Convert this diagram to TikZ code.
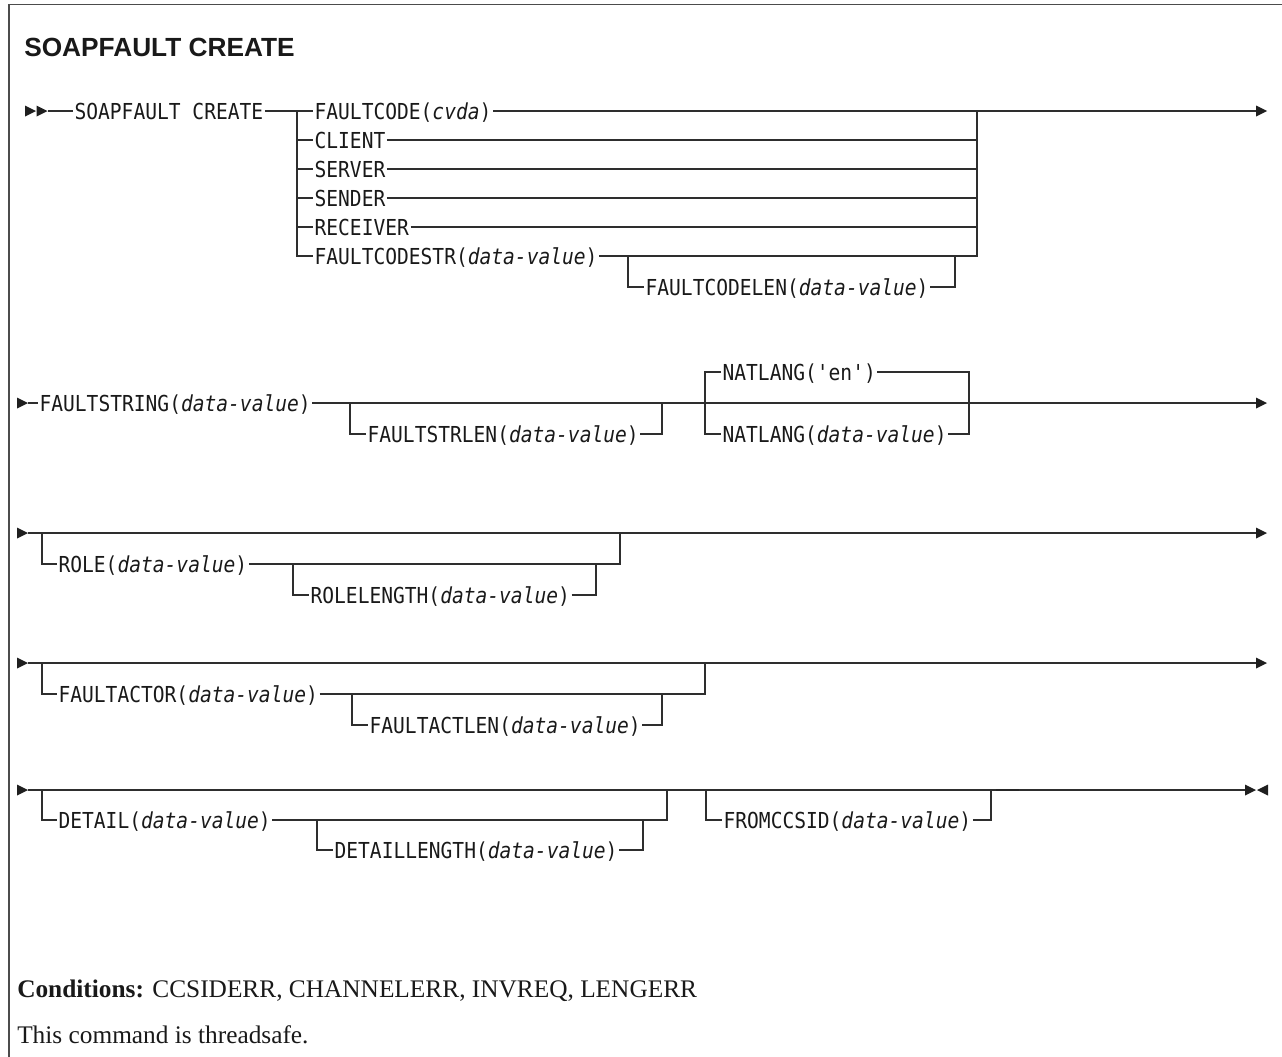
\documentclass[tikz,border=0pt]{standalone}
\usepackage{fontspec}
\setmainfont{Liberation Serif}
\newfontfamily\synfont[FakeStretch=0.89,ItalicFont={DejaVu Sans Mono Oblique}]{DejaVu Sans Mono}
\newfontfamily\headfont{Liberation Sans}
\begin{document}
\begin{tikzpicture}[x=0.75pt,y=-0.75pt,
  ln/.style={line width=1.15pt, draw=black!82, line join=miter},
  tipc/.style={fill=black!88},
  syn/.style={font=\synfont\fontsize{16.5pt}{18pt}\selectfont, anchor=west,
     inner xsep=1pt, inner ysep=0pt, text height=12pt, text depth=0pt, text=black!90},
  foot/.style={anchor=base west, inner sep=0, font=\fontsize{19pt}{22pt}\selectfont, text=black!90},
  rtip/.pic={\fill[tipc] (0,-5.5) -- (11,0) -- (0,5.5) -- cycle;},
  ltip/.pic={\fill[tipc] (11,-5.5) -- (0,0) -- (11,5.5) -- cycle;}]
\useasboundingbox (0,0) rectangle (1282,1057);
% frame
\draw[line width=1.2pt, black!70] (1282,4.5) -- (9,4.5) -- (9,1057);
% title
\node[font=\headfont\bfseries\fontsize{19.7pt}{22pt}\selectfont, anchor=base west, inner sep=0, text=black!90] (title) at (24,56) {SOAPFAULT CREATE};

% ---------------- row 1
\pic at (25,111) {rtip};
\pic at (36.5,111) {rtip};
\coordinate (r1s) at (47.5,111);
\node[syn] (soap) at (73,111) {SOAPFAULT CREATE};
\coordinate (b1) at (297,111);
\node[syn] (fc)  at (313,111) {FAULTCODE(\textit{cvda})};
\node[syn] (cl)  at (313,140) {CLIENT};
\node[syn] (sv)  at (313,169) {SERVER};
\node[syn] (sd)  at (313,198) {SENDER};
\node[syn] (rc)  at (313,227) {RECEIVER};
\node[syn] (fcs) at (313,256) {FAULTCODESTR(\textit{data-value})};
\coordinate (s1) at (628,256);
\node[syn] (fcl) at (644,287) {FAULTCODELEN(\textit{data-value})};
\coordinate (s1r) at (955,256);
\coordinate (j1) at (977,111);
\coordinate (r1e) at (1256,111);
\draw[ln] (r1s) -- (soap.west);
\draw[ln] (soap.east) -- (fc.west);
\draw[ln] (b1) |- (fcs.west);
\foreach \n in {cl,sv,sd,rc} \draw[ln] (b1 |- \n.west) -- (\n.west);
\draw[ln] (fc.east) -- (r1e);
\draw[ln] (fcs.east) -| (j1);
\foreach \n in {cl,sv,sd,rc} \draw[ln] (\n.east) -- (j1 |- \n.east);
\draw[ln] (s1) |- (fcl.west);
\draw[ln] (fcl.east) -| (s1r);
\pic at (r1e) {rtip};

% ---------------- row 2
\pic at (17,403) {rtip};
\coordinate (r2s) at (28,403);
\node[syn] (fs) at (38,403) {FAULTSTRING(\textit{data-value})};
\coordinate (s2) at (350,403);
\node[syn] (fsl) at (366,434) {FAULTSTRLEN(\textit{data-value})};
\coordinate (s2r) at (662,403);
\coordinate (n2l) at (705,403);
\node[syn] (nat1) at (721,372) {NATLANG('en')};
\node[syn] (nat2) at (721,434) {NATLANG(\textit{data-value})};
\coordinate (n2r) at (969,403);
\coordinate (r2e) at (1256,403);
\draw[ln] (r2s) -- (fs.west);
\draw[ln] (fs.east) -- (r2e);
\draw[ln] (s2) |- (fsl.west);
\draw[ln] (fsl.east) -| (s2r);
\draw[ln] (nat1.west) -| (n2l |- nat2.west) -- (nat2.west);
\draw[ln] (nat1.east) -| (n2r |- nat2.east) -- (nat2.east);
\pic at (r2e) {rtip};

% ---------------- row 3
\pic at (17,533) {rtip};
\coordinate (r3s) at (28,533);
\coordinate (b3) at (42,533);
\node[syn] (role) at (57,564) {ROLE(\textit{data-value})};
\coordinate (s3) at (293,564);
\node[syn] (rolel) at (309,595) {ROLELENGTH(\textit{data-value})};
\coordinate (s3r) at (596,564);
\coordinate (j3) at (620,533);
\coordinate (r3e) at (1256,533);
\draw[ln] (r3s) -- (r3e);
\draw[ln] (b3) |- (role.west);
\draw[ln] (role.east) -| (j3);
\draw[ln] (s3) |- (rolel.west);
\draw[ln] (rolel.east) -| (s3r);
\pic at (r3e) {rtip};

% ---------------- row 4
\pic at (17,663) {rtip};
\coordinate (r4s) at (28,663);
\coordinate (b4) at (42,663);
\node[syn] (fa) at (57,694) {FAULTACTOR(\textit{data-value})};
\coordinate (s4) at (352,694);
\node[syn] (fal) at (368,725) {FAULTACTLEN(\textit{data-value})};
\coordinate (s4r) at (662,694);
\coordinate (j4) at (705,663);
\coordinate (r4e) at (1256,663);
\draw[ln] (r4s) -- (r4e);
\draw[ln] (b4) |- (fa.west);
\draw[ln] (fa.east) -| (j4);
\draw[ln] (s4) |- (fal.west);
\draw[ln] (fal.east) -| (s4r);
\pic at (r4e) {rtip};

% ---------------- row 5
\pic at (17,790) {rtip};
\coordinate (r5s) at (28,790);
\coordinate (b5) at (42,790);
\node[syn] (det) at (57,820) {DETAIL(\textit{data-value})};
\coordinate (s5) at (317,820);
\node[syn] (detl) at (333,850) {DETAILLENGTH(\textit{data-value})};
\coordinate (s5r) at (643,820);
\coordinate (j5) at (667,790);
\coordinate (f5) at (706,790);
\node[syn] (fromc) at (722,820) {FROMCCSID(\textit{data-value})};
\coordinate (f5r) at (991,790);
\coordinate (r5e) at (1245,790);
\draw[ln] (r5s) -- (r5e);
\draw[ln] (b5) |- (det.west);
\draw[ln] (det.east) -| (j5);
\draw[ln] (s5) |- (detl.west);
\draw[ln] (detl.east) -| (s5r);
\draw[ln] (f5) |- (fromc.west);
\draw[ln] (fromc.east) -| (f5r);
\draw[line width=2pt, black!85] (996,790) -- (1019,790);
\pic at (r5e) {rtip};
\pic at (1257,790) {ltip};

% ---------------- footer
\node[foot] (cond) at (17,997) {\textbf{Conditions:} CCSIDERR, CHANNELERR, INVREQ, LENGERR};
\node[foot] (ts) at (17,1043) {This command is threadsafe.};
\end{tikzpicture}
\end{document}
